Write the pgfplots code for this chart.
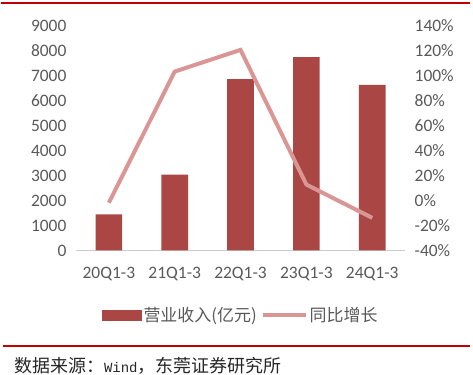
\documentclass[border=0pt]{standalone}
\usepackage{pgfplots}
\pgfplotsset{compat=1.18}
\usepackage{fontspec}
\setmainfont{Carlito}
\newfontfamily\cjk{Noto Sans CJK SC}
\newfontfamily\mono{Liberation Mono}
\definecolor{barc}{HTML}{AA4643}
\definecolor{linec}{HTML}{D99694}
\definecolor{txt}{HTML}{595959}
\definecolor{redl}{HTML}{C00000}
\begin{document}
\begin{tikzpicture}[x=1pt,y=1pt]
\path (0,0) rectangle (473,375);
\draw[redl, line width=2.2pt] (0,372) -- (470,372);
\draw[redl, line width=2pt] (2,28) -- (470,28);
\node[anchor=west, inner sep=0pt, text=black!85] at (13,8.5) {\fontsize{18}{18}\cjk 数据来源：{\mono\fontsize{14}{14}\selectfont Wind}，东莞证券研究所};
\begin{axis}[
  at={(75pt,124pt)}, anchor=south west,
  scale only axis, width=330pt, height=225pt,
  xmin=-0.5, xmax=4.5, ymin=0, ymax=9000,
  xtick={0,1,2,3,4},
  xticklabels={20Q1-3,21Q1-3,22Q1-3,23Q1-3,24Q1-3},
  ytick={0,1000,...,9000},
  axis y line*=left, axis x line*=bottom,
  y axis line style={draw=none},
  x axis line style={draw=black!20, line width=0.8pt},
  major tick length=0pt,
  tick label style={text=txt, font=\fontsize{17.5}{18}\selectfont},
  /pgf/number format/assume math mode=true,
  /pgf/number format/1000 sep={},
  yticklabel style={xshift=-6pt},
  xticklabel style={yshift=-13pt},
  legend style={draw=none, at={(0.5,-0.289)}, anchor=center, font=\fontsize{17}{17}\cjk, text=txt, legend columns=2, /tikz/every even column/.append style={column sep=2pt}},
  legend cell align=left,
]
\addplot[ybar, bar width=26.7pt, fill=barc, draw=none, legend image code/.code={\fill[barc] (0pt,-5.5pt) rectangle (40pt,5.5pt);}] coordinates {(0,1440) (1,3040) (2,6870) (3,7750) (4,6640)};
\addlegendentry{营业收入(亿元)}
\addlegendimage{legend image code/.code={\draw[linec, line width=4pt] (0pt,0pt) -- (43pt,0pt);}}
\addlegendentry{同比增长}
\end{axis}
\begin{axis}[
  at={(75pt,124pt)}, anchor=south west,
  scale only axis, width=330pt, height=225pt,
  xmin=-0.5, xmax=4.5, ymin=-40, ymax=140,
  ytick={-40,-20,...,140},
  axis y line*=right, axis x line=none,
  y axis line style={draw=none},
  major tick length=0pt,
  tick label style={text=txt, font=\fontsize{17.5}{18}\selectfont},
  /pgf/number format/assume math mode=true,
  yticklabel={\pgfmathprintnumber{\tick}\%},
  yticklabel style={xshift=6pt},
]
\addplot[linec, line width=4pt, mark=none] coordinates {(0,-1.8) (1,103.4) (2,120.8) (3,12.8) (4,-13.9)};
\end{axis}
\end{tikzpicture}
\end{document}
